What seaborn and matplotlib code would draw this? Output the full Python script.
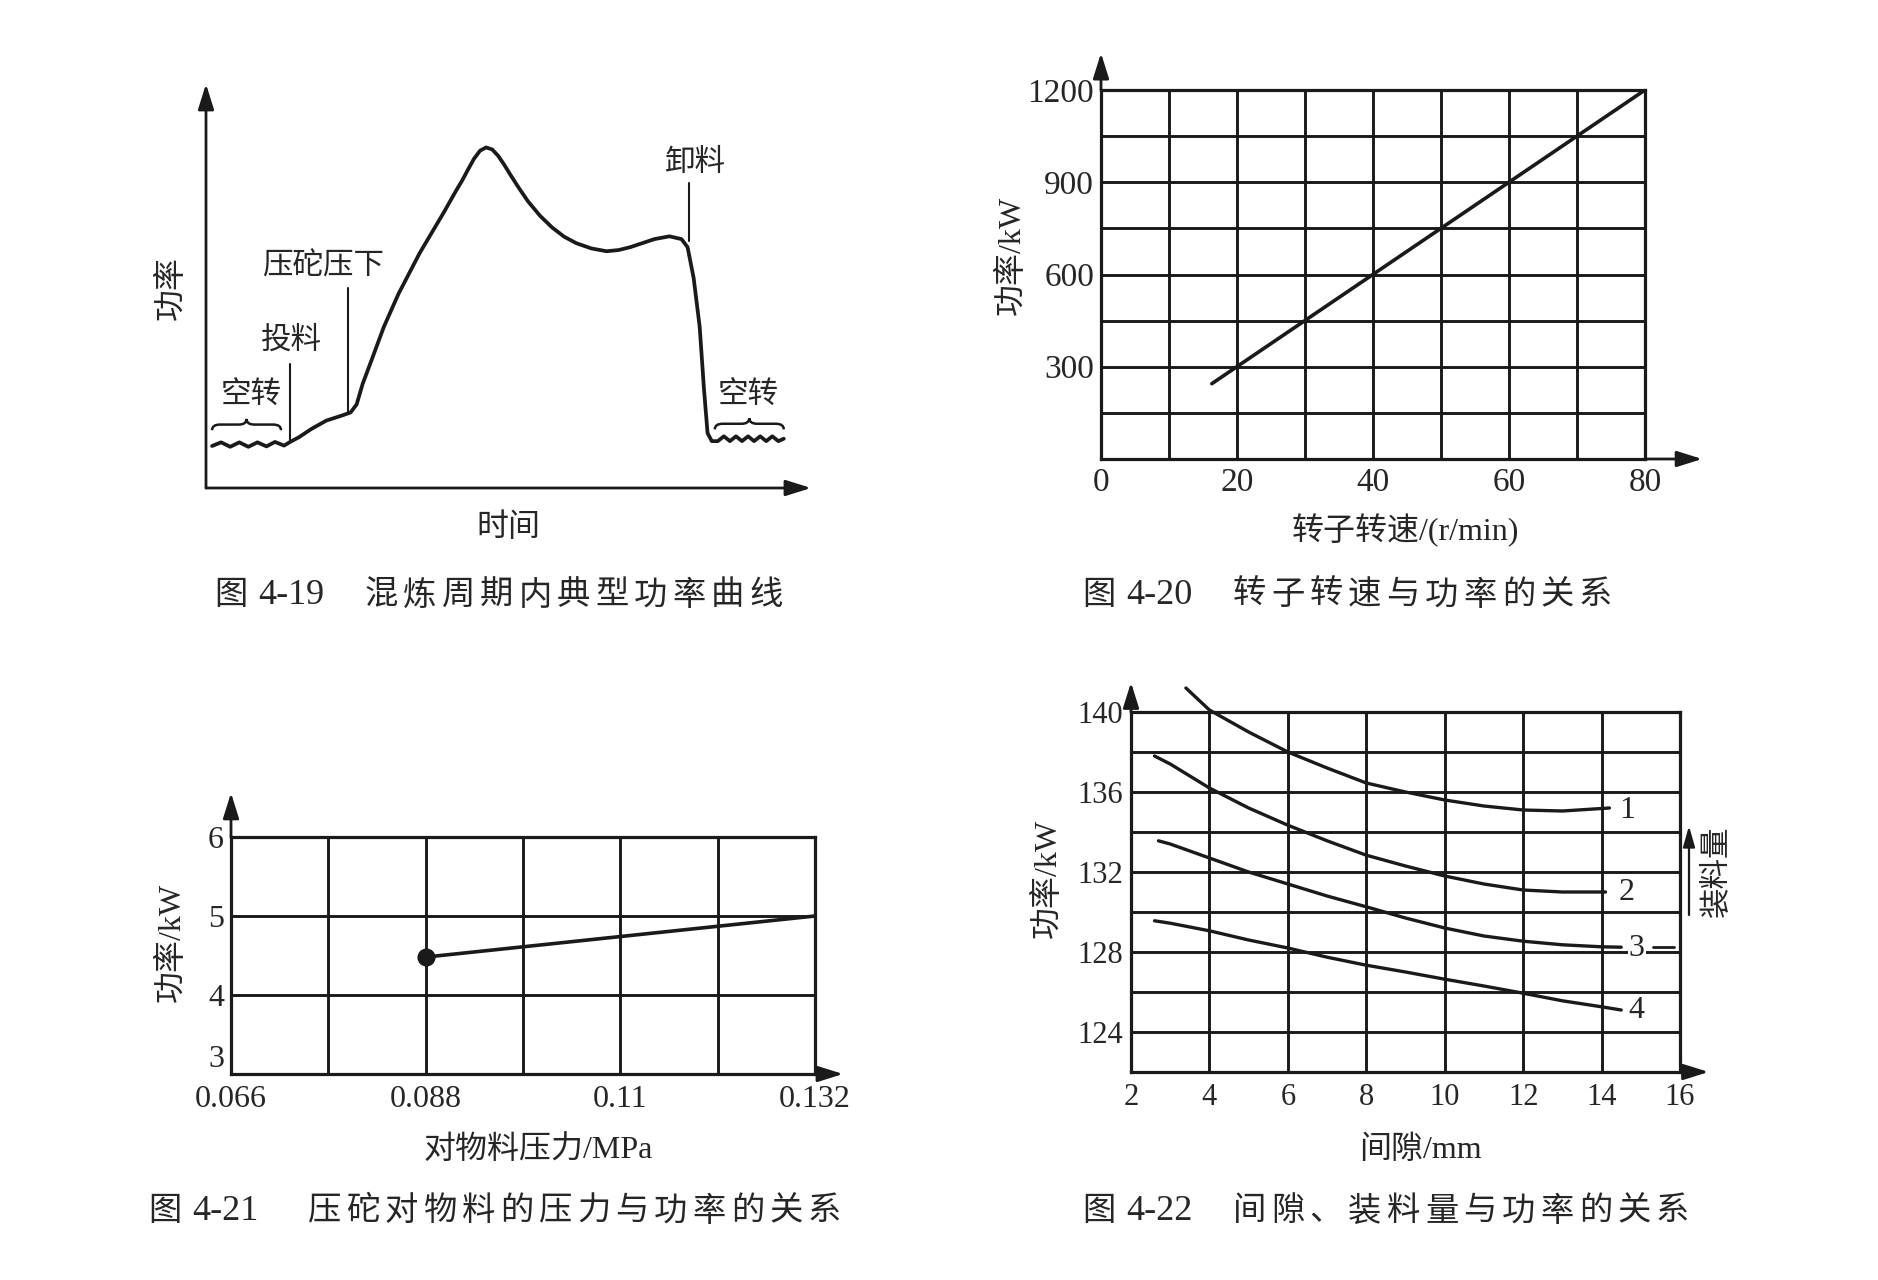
import numpy as np
import pandas as pd
import seaborn as sns
import matplotlib
matplotlib.use("Agg")
import matplotlib.pyplot as plt
from matplotlib.path import Path
from matplotlib.patches import PathPatch

sns.set_theme(style="white")
plt.rcParams["font.family"] = ["Liberation Serif", "Noto Sans CJK SC"]

W, H = 1878, 1280

# ---- data ----
# Fig 4-19: typical power curve over one mixing cycle (arbitrary units 0-100)
cycle_time = [1.0, 2.5, 4.0, 5.5, 7.0, 8.5, 10.0, 11.4, 12.9, 13.9, 15.4, 17.4, 19.9,
              22.4, 23.9, 24.9, 25.9, 27.4, 29.4, 31.8, 35.3, 39.3, 41.3, 42.3, 43.3,
              44.3, 45.3, 46.3, 47.3, 48.3, 49.3, 50.2, 51.7, 53.2, 55.2, 57.2,
              59.2, 61.2, 63.7, 66.2, 68.2, 70.1, 72.1, 74.1, 76.6, 78.6, 79.6, 80.6,
              81.6, 82.3, 82.9, 83.6, 84.6, 85.6, 86.6, 87.6, 88.6, 89.6, 90.6, 91.6,
              92.6, 93.6, 94.6, 95.5]
cycle_power = [10.4, 11.3, 10.2, 11.3, 10.2, 11.3, 10.3, 11.4, 10.5, 11.4, 12.6, 14.6, 16.7,
               17.9, 18.7, 20.7, 25.8, 31.8, 39.9, 48.0, 58.1, 68.2, 73.5, 76.0, 78.8,
               81.5, 83.5, 84.3, 83.8, 82.2, 80.0, 77.8, 74.3, 71.0, 67.4, 64.5,
               62.2, 60.6, 59.3, 58.6, 58.9, 59.6, 60.6, 61.6, 62.3, 61.6, 59.6, 52.0,
               39.9, 24.7, 13.6, 11.6, 11.6, 12.8, 11.6, 12.8, 11.6, 12.8, 11.6, 12.8,
               11.6, 12.8, 11.6, 12.2]

# Fig 4-20: rotor speed vs power
rotor_speed = [16.3, 80]
rotor_power = [245, 1200]

# Fig 4-21: ram pressure vs power
ram_pressure = [0.088, 0.132]
ram_power = [4.48, 5.0]
p3_xticks = [0.066, 0.088, 0.11, 0.132]
p3_xlabels = ["0.066", "0.088", "0.11", "0.132"]

# Fig 4-22: gap / fill amount vs power
gap1 = [3.4, 4.0, 5.0, 6.0, 7.0, 8.0, 9.0, 10.0, 11.0, 12.0, 13.0, 14.2]
pow1 = [141.2, 140.1, 139.0, 138.0, 137.2, 136.45, 136.0, 135.6, 135.3, 135.1, 135.05, 135.2]
gap2 = [2.6, 3.0, 4.0, 5.0, 6.0, 7.0, 8.0, 9.0, 10.0, 11.0, 12.0, 13.0, 14.1]
pow2 = [137.8, 137.4, 136.2, 135.2, 134.34, 133.56, 132.84, 132.3, 131.8, 131.4, 131.1, 131.0, 131.0]
gap3 = [2.7, 3.0, 4.0, 5.0, 6.0, 7.0, 8.0, 9.0, 10.0, 11.0, 12.0, 13.0, 14.0, 14.5]
pow3 = [133.56, 133.4, 132.7, 132.0, 131.4, 130.8, 130.26, 129.7, 129.2, 128.8, 128.54, 128.36, 128.26, 128.24]
gap4 = [2.6, 3.0, 4.0, 5.0, 6.0, 7.0, 8.0, 9.0, 10.0, 11.0, 12.0, 13.0, 14.0, 14.5]
pow4 = [129.56, 129.44, 129.06, 128.6, 128.2, 127.74, 127.34, 127.0, 126.64, 126.3, 125.94, 125.56, 125.26, 125.1]
curve_names = ["1", "2", "3", "4"]
curve_label_pos = [(14.65, 135.1), (14.65, 131.0), (14.9, 128.2), (14.9, 125.1)]

captions = [
    ("4-19", "混炼周期内典型功率曲线", 214, 596, 362),
    ("4-20", "转子转速与功率的关系", 1082, 596, 1230),
    ("4-21", "压砣对物料的压力与功率的关系", 148, 1212, 305),
    ("4-22", "间隙、装料量与功率的关系", 1082, 1212, 1230),
]
caption_step = 38.5


def box(l, t, r, b):
    return [l / W, 1 - b / H, (r - l) / W, (b - t) / H]


def fx(x):
    return x / W


def fy(y):
    return 1 - y / H


def arrow(ax, start, end):
    ax.annotate("", xy=end, xytext=start, xycoords="axes fraction",
                arrowprops=dict(arrowstyle="-|>,head_length=0.7,head_width=0.22",
                                color="k", lw=2.0, mutation_scale=22,
                                shrinkA=0, shrinkB=0),
                annotation_clip=False)


def grid_axes(ax, xmaj, xmin, ymaj, ymin, xlabels, ylabels, size, xpad, ypad):
    ax.set_xticks(xmaj)
    ax.set_xticks(xmin, minor=True)
    ax.set_yticks(ymaj)
    ax.set_yticks(ymin, minor=True)
    ax.set_xticklabels(xlabels)
    ax.set_yticklabels(ylabels)
    ax.tick_params(which="both", length=0, labelsize=size)
    ax.tick_params(axis="x", pad=xpad)
    ax.tick_params(axis="y", pad=ypad)
    ax.grid(True, which="both", color="k", linewidth=2.1)
    ax.set_axisbelow(True)
    for s in ax.spines.values():
        s.set_visible(True)
        s.set_color("k")
        s.set_linewidth(2.3)
    ax.set_xlabel("")
    ax.set_ylabel("")


def brace(ax, x0, x1, y, h, q):
    xm = (x0 + x1) / 2
    ym = y + h / 2
    verts = [(x0, y), (x0, ym), (x0 + q, ym), (xm - q, ym), (xm, ym), (xm, y + h),
             (xm, ym), (xm + q, ym), (x1 - q, ym), (x1, ym), (x1, y)]
    codes = [Path.MOVETO, Path.CURVE3, Path.CURVE3, Path.LINETO, Path.CURVE3, Path.CURVE3,
             Path.CURVE3, Path.CURVE3, Path.LINETO, Path.CURVE3, Path.CURVE3]
    ax.add_patch(PathPatch(Path(verts, codes), fill=False, lw=1.8, color="k", clip_on=False))


fig = plt.figure(figsize=(W / 100, H / 100), dpi=100)
fig.patch.set_facecolor("white")

# ---------- Fig 4-19 ----------
ax1 = fig.add_axes(box(206, 84, 811, 488))
sns.lineplot(x=cycle_time, y=cycle_power, ax=ax1, color="k", linewidth=2.7,
             estimator=None, sort=False)
ax1.lines[0].set_solid_joinstyle("round")
ax1.set_xlim(0, 100)
ax1.set_ylim(0, 100)
ax1.set_xticks([])
ax1.set_yticks([])
for s in ax1.spines.values():
    s.set_visible(False)
ax1.set_xlabel("")
ax1.set_ylabel("")
arrow(ax1, (0, 0), (0, 1))
arrow(ax1, (0, 0), (1, 0))
ann_kw = dict(fontsize=22, ha="center", va="center")
ax1.text(7.5, 22.7, "空转", **ann_kw)
brace(ax1, 1.0, 12.4, 14.3, 2.8, 1.3)
ax1.text(14.1, 36.4, "投料", **ann_kw)
ax1.plot([13.9, 13.9], [11.4, 30.8], color="k", lw=1.5)
ax1.text(19.4, 54.8, "压砣压下", **ann_kw)
ax1.plot([23.4, 23.4], [18.7, 49.5], color="k", lw=1.5)
ax1.text(80.8, 80.3, "卸料", **ann_kw)
ax1.plot([79.9, 79.9], [61.1, 75.5], color="k", lw=1.5)
ax1.text(89.6, 22.7, "空转", **ann_kw)
brace(ax1, 84.1, 95.5, 14.5, 2.8, 1.3)
fig.text(fx(172), fy(288), "功率", fontsize=23, rotation=90, ha="center", va="center")
fig.text(fx(508), fy(528), "时间", fontsize=23, ha="center", va="center")

# ---------- Fig 4-20 ----------
ax2 = fig.add_axes(box(1101, 90, 1645, 459))
sns.lineplot(x=rotor_speed, y=rotor_power, ax=ax2, color="k", linewidth=2.6,
             estimator=None, sort=False)
ax2.set_xlim(0, 80)
ax2.set_ylim(0, 1200)
grid_axes(ax2, [0, 20, 40, 60, 80], [10, 30, 50, 70], [300, 600, 900, 1200],
          [150, 450, 750, 1050], ["0", "20", "40", "60", "80"],
          ["300", "600", "900", "1200"], 24, 6, 5)
arrow(ax2, (0, 1), (0, 1.1))
arrow(ax2, (1, 0), (1.105, 0))
fig.text(fx(1012), fy(255), "功率/kW", fontsize=23, rotation=90, ha="center", va="center")
fig.text(fx(1405), fy(530), "转子转速/(r/min)", fontsize=23, ha="center", va="center")

# ---------- Fig 4-21 ----------
ax3 = fig.add_axes(box(231, 837, 815, 1074))
sns.lineplot(x=ram_pressure, y=ram_power, ax=ax3, color="k", linewidth=2.6,
             estimator=None, sort=False)
sns.scatterplot(x=ram_pressure[:1], y=ram_power[:1], ax=ax3, color="k", s=170,
                zorder=5, linewidth=0)
ax3.set_xlim(0.066, 0.132)
ax3.set_ylim(3, 6)
grid_axes(ax3, p3_xticks, [0.077, 0.099, 0.121], [3, 4, 5, 6], [],
          p3_xlabels, ["3", "4", "5", "6"], 23, 8, 5)
ax3.get_yticklabels()[0].set_va("bottom")
arrow(ax3, (0, 1), (0, 1.186))
arrow(ax3, (1, 0), (1.048, 0))
fig.text(fx(172), fy(942), "功率/kW", fontsize=23, rotation=90, ha="center", va="center")
fig.text(fx(538), fy(1150), "对物料压力/MPa", fontsize=23, ha="center", va="center")

# ---------- Fig 4-22 ----------
ax4 = fig.add_axes(box(1131, 712, 1680, 1072))
df4 = pd.DataFrame({
    "gap": gap1 + gap2 + gap3 + gap4,
    "power": pow1 + pow2 + pow3 + pow4,
    "curve": (["1"] * len(gap1) + ["2"] * len(gap2) + ["3"] * len(gap3) + ["4"] * len(gap4)),
})
sns.lineplot(data=df4, x="gap", y="power", hue="curve", palette=["k"] * 4,
             ax=ax4, linewidth=2.4, estimator=None, legend=False)
for ln in ax4.lines:
    ln.set_clip_on(False)
ax4.set_xlim(2, 16)
ax4.set_ylim(122, 140)
grid_axes(ax4, list(range(2, 17, 2)), [], [124, 128, 132, 136, 140],
          [122, 126, 130, 134, 138], [str(v) for v in range(2, 17, 2)],
          ["124", "128", "132", "136", "140"], 22, 8, 6)
arrow(ax4, (0, 1), (0, 1.082))
arrow(ax4, (1, 0), (1.052, 0))
for name, (gx, gy) in zip(curve_names, curve_label_pos):
    ax4.text(gx, gy, name, fontsize=23, ha="center", va="center",
             bbox=dict(facecolor="white", edgecolor="none", pad=1))
ax4.plot([15.3, 15.85], [128.26, 128.26], color="k", lw=2.0)
ax4.annotate("", xy=(fx(1689), fy(826)), xytext=(fx(1689), fy(915)),
             xycoords="figure fraction",
             arrowprops=dict(arrowstyle="-|>,head_length=0.7,head_width=0.2",
                             color="k", lw=1.6, mutation_scale=18, shrinkA=0, shrinkB=0),
             annotation_clip=False)
fig.text(fx(1717), fy(871), "装料量", fontsize=22, rotation=90, ha="center", va="center")
fig.text(fx(1048), fy(878), "功率/kW", fontsize=23, rotation=90, ha="center", va="center")
fig.text(fx(1420), fy(1150), "间隙/mm", fontsize=23, ha="center", va="center")

# ---------- captions ----------
for num, title, x0, y0, tx in captions:
    fig.text(fx(x0), fy(y0), "图", fontsize=24, ha="left", va="center")
    fig.text(fx(x0 + 44), fy(y0), num, fontsize=26, ha="left", va="center")
    for i, ch in enumerate(title):
        fig.text(fx(tx + i * caption_step + caption_step / 2), fy(y0), ch, fontsize=24,
                 ha="center", va="center")

fig.savefig("out.png", dpi=100, facecolor="white")
